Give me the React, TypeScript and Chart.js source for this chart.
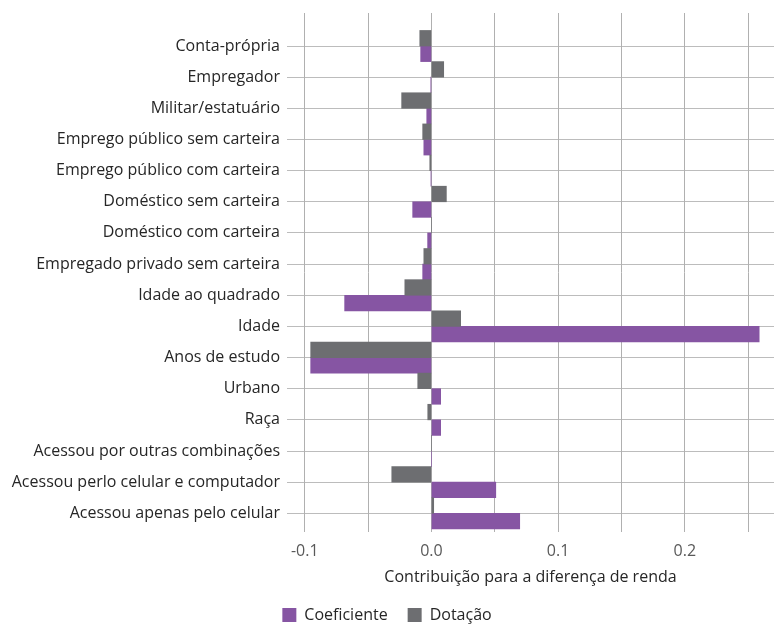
import React, { useEffect, useRef } from "react";
import { Chart, registerables } from "chart.js";

Chart.register(...registerables);

const categories = [
  "Conta-própria",
  "Empregador",
  "Militar/estatuário",
  "Emprego público sem carteira",
  "Emprego público com carteira",
  "Doméstico sem carteira",
  "Doméstico com carteira",
  "Empregado privado sem carteira",
  "Idade ao quadrado",
  "Idade",
  "Anos de estudo",
  "Urbano",
  "Raça",
  "Acessou por outras combinações",
  "Acessou perlo celular e computador",
  "Acessou apenas pelo celular",
];

const coeficiente = [
  -0.0085, -0.0005, -0.0037, -0.006, -0.0003, -0.0148, -0.003, -0.0069,
  -0.0685, 0.2587, -0.0953, 0.0073, 0.0073, 0.0, 0.0508, 0.0697,
];

const dotacao = [
  -0.0092, 0.0097, -0.0235, -0.0069, -0.0013, 0.0118, 0.0, -0.006,
  -0.021, 0.0231, -0.0953, -0.0108, -0.0029, 0.0, -0.0313, 0.0018,
];

const xTicks = [-0.1, -0.05, 0, 0.05, 0.1, 0.15, 0.2, 0.25];
const xTickLabels = ["-0.1", "", "0.0", "", "0.1", "", "0.2", ""];

const FONT = "'Open Sans', 'Noto Sans', sans-serif";

export default function App() {
  const ref = useRef<HTMLCanvasElement | null>(null);

  useEffect(() => {
    if (!ref.current) return;
    const chart = new Chart(ref.current, {
      type: "bar",
      data: {
        datasets: [
          {
            label: "Dotação",
            data: dotacao.map((v, i) => ({ x: v, y: i })),
            backgroundColor: "#6D6E71",
            borderWidth: 0,
            barPercentage: 1,
            categoryPercentage: 1,
          },
          {
            label: "Coeficiente",
            data: coeficiente.map((v, i) => ({ x: v, y: i })),
            backgroundColor: "#8655A3",
            borderWidth: 0,
            barPercentage: 1,
            categoryPercentage: 1,
          },
        ],
      },
      options: {
        indexAxis: "y",
        responsive: false,
        animation: false,
        layout: { padding: { top: 13, bottom: -9, left: 0, right: 0 } },
        plugins: {
          tooltip: { enabled: false },
          legend: {
            position: "bottom",
            labels: {
              boxWidth: 14,
              boxHeight: 14,
              padding: 20,
              color: "#262626",
              font: { family: FONT, size: 16 },
              sort: (a: any, b: any) => b.datasetIndex - a.datasetIndex,
            },
          },
        },
        scales: {
          y: {
            type: "linear",
            reverse: true,
            min: -1.06,
            max: 15.6,
            offset: false,
            afterBuildTicks: (s: any) => {
              s.ticks = categories.map((_, i) => ({ value: i }));
            },
            afterFit: (s: any) => {
              s.width = 287;
              s.paddingTop = 0;
              s.paddingBottom = 0;
            },
            ticks: {
              autoSkip: false,
              padding: 7,
              color: "#262626",
              font: { family: FONT, size: 16 },
              callback: (v: any) => categories[Math.round(Number(v))] ?? "",
            },
            grid: {
              color: "#bcbcbc",
              lineWidth: 1,
              drawTicks: false,
              offset: false,
            },
            border: { display: false },
          },
          x: {
            type: "linear",
            min: -0.114,
            max: 0.2704,
            afterBuildTicks: (s: any) => {
              s.ticks = xTicks.map((v) => ({ value: v }));
            },
            afterFit: (s: any) => {
              s.height = 55;
              s.paddingLeft = 0;
              s.paddingRight = 0;
            },
            ticks: {
              autoSkip: false,
              maxRotation: 0,
              padding: 10,
              color: "#595959",
              font: { family: FONT, size: 16 },
              callback: (_v: any, i: number) => xTickLabels[i] ?? "",
            },
            grid: {
              color: "#b0b0b0",
              lineWidth: 1,
              drawTicks: false,
            },
            border: { display: false },
            title: {
              display: true,
              text: "Contribuição para a diferença de renda",
              color: "#262626",
              font: { family: FONT, size: 16 },
              padding: 0,
            },
          },
        },
      },
    });
    return () => chart.destroy();
  }, []);

  return (
    <div style={{ position: "fixed", left: 0, top: 0, width: 774, height: 624, background: "#fff" }}>
      <canvas ref={ref} width={774} height={624} style={{ display: "block" }} />
    </div>
  );
}
